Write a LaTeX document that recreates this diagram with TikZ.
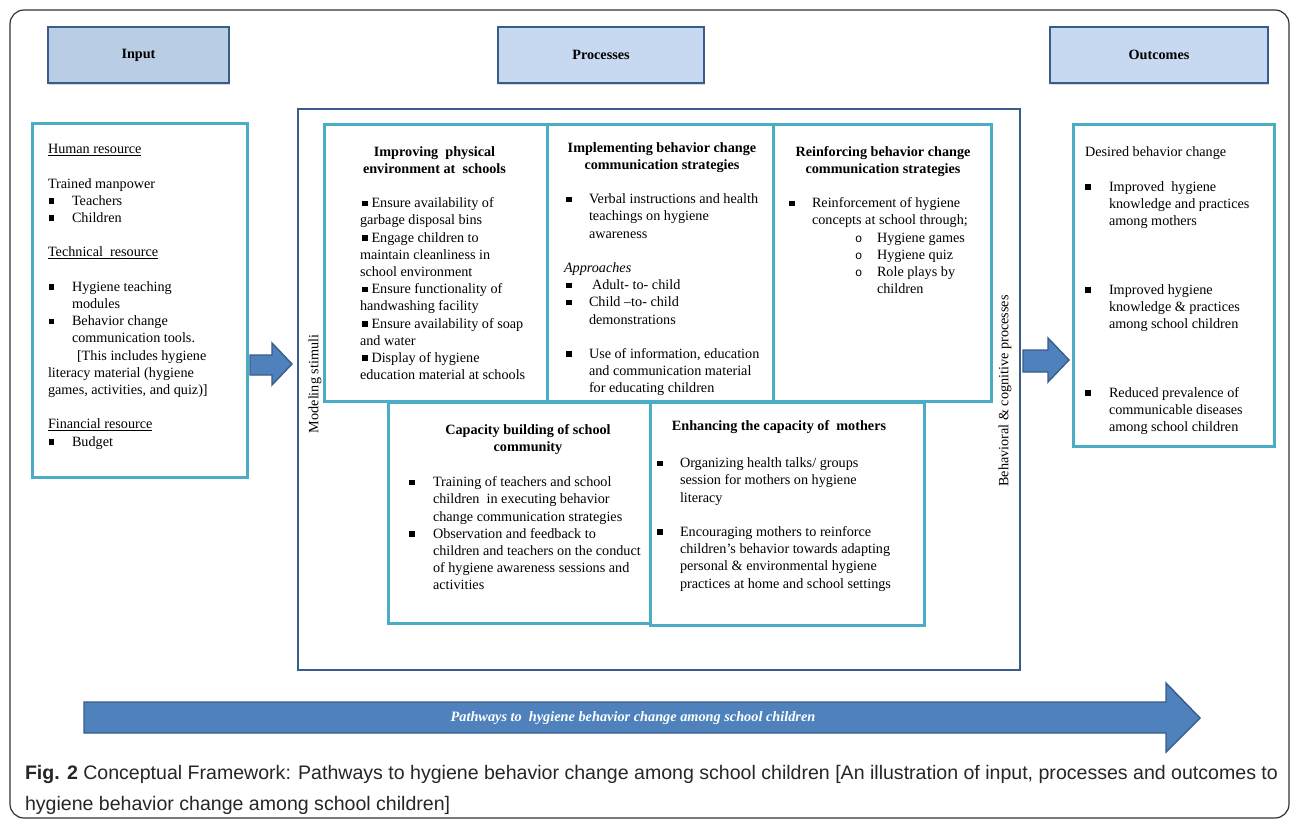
\documentclass[tikz,border=0pt]{standalone}
\usepackage{fontspec}
\usepackage{graphicx}
\setmainfont{Liberation Serif}
\newfontfamily\capfont{Liberation Sans}
\newfontfamily\monof{Liberation Mono}
\usetikzlibrary{shadows}
\definecolor{cyanb}{HTML}{4BACC6}
\definecolor{navy}{HTML}{385D8A}
\definecolor{hdrA}{HTML}{B9CDE5}
\definecolor{hdrB}{HTML}{C6D9F1}
\definecolor{arrowf}{HTML}{4F81BD}
\newcommand{\sqb}{\rule[1.5pt]{5.5pt}{5.5pt}}
\newcommand{\ob}{{\monof\fontsize{12}{12}\selectfont o}}
\newcommand{\mc}[1]{\multicolumn{2}{@{}l@{}}{#1}}
\tikzset{
  every node/.style={font=\fontsize{14.2}{17.2}\selectfont},
  hdr/.style={draw=navy, line width=2.4pt, minimum height=56pt, inner sep=0pt,
    font=\bfseries\fontsize{14.2}{17.2}\selectfont,
    drop shadow={shadow xshift=1.2pt, shadow yshift=-2.2pt, fill=black!30, opacity=.5}},
  cbox/.style={draw=cyanb, line width=2.6pt, anchor=north west, inner sep=0pt},
  pbox/.style={draw=navy, line width=2.4pt, anchor=north west, inner sep=0pt},
  tx/.style={anchor=north west, inner sep=0pt, outer sep=0pt},
  ttl/.style={anchor=north, inner sep=0pt, outer sep=0pt, font=\bfseries\fontsize{14.2}{17.2}\selectfont},
  blockarrow/.style={fill=arrowf, draw=navy, line width=1.4pt, line join=miter},
  frame/.style={draw=black!80, line width=1.2pt, rounded corners=14pt}
}
\begin{document}
\begin{tikzpicture}[x=1pt,y=-1pt]
\useasboundingbox (0,0) rectangle (1290,824);
\fill[white] (0,0) rectangle (1290,824);
\draw[frame] (10,10) rectangle (1289,818);

% headers
\node[hdr, fill=hdrA, minimum width=181pt] (hin) at (138.5,55) {Input};
\node[hdr, fill=hdrB, minimum width=206pt] (hpr) at (601,55) {Processes};
\node[hdr, fill=hdrB, minimum width=218pt] (hout) at (1159,55) {Outcomes};

% main boxes
\node[cbox, minimum width=215pt, minimum height=354pt] (inbox) at (31,122) {};
\node[pbox, minimum width=722pt, minimum height=561pt] (procbox) at (297,108) {};
\node[cbox, minimum width=223pt, minimum height=277pt] (b1) at (323,123) {};
\node[cbox, minimum width=226pt, minimum height=277pt] (b2) at (546,123) {};
\node[cbox, minimum width=218pt, minimum height=277pt] (b3) at (772,123) {};
\node[cbox, minimum width=262pt, minimum height=221pt] (b4) at (387,401) {};
\node[cbox, minimum width=274pt, minimum height=223pt] (b5) at (649,401) {};
\node[cbox, minimum width=201pt, minimum height=322pt] (outbox) at (1072,123) {};

% input text
\node[tx] (intext) at (48,141.6) {\begin{tabular}{@{}p{24pt}@{}l@{}}
\mc{\underline{Human resource}}\\
\mc{}\\
\mc{Trained manpower}\\
\hspace*{1pt}\sqb & Teachers\\
\hspace*{1pt}\sqb & Children\\
\mc{}\\
\mc{\underline{Technical\ \ resource}}\\
\mc{}\\
\hspace*{1pt}\sqb & Hygiene teaching\\
& modules\\
\hspace*{1pt}\sqb & Behavior change\\
& communication tools.\\
& \hspace*{5pt}[This includes hygiene\\
\mc{literacy material (hygiene}\\
\mc{games, activities, and quiz)]}\\
\mc{}\\
\mc{\underline{Financial resource}}\\
\hspace*{1pt}\sqb & Budget
\end{tabular}};

% box 1
\node[ttl] (t1) at (434.5,144.6) {\begin{tabular}{@{}c@{}}Improving\ \ physical\\environment at\ \ schools\end{tabular}};
\node[tx] (x1) at (360,195.6) {\begin{tabular}{@{}l@{}}
\hspace*{2pt}\sqb\hspace{4pt}Ensure availability of\\
garbage disposal bins\\
\hspace*{2pt}\sqb\hspace{4pt}Engage children to\\
maintain cleanliness in\\
school environment\\
\hspace*{2pt}\sqb\hspace{4pt}Ensure functionality of\\
handwashing facility\\
\hspace*{2pt}\sqb\hspace{4pt}Ensure availability of soap\\
and water\\
\hspace*{2pt}\sqb\hspace{4pt}Display of hygiene\\
education material at schools
\end{tabular}};

% box 2
\node[ttl] (t2) at (662,140.6) {\begin{tabular}{@{}c@{}}Implementing behavior change\\communication strategies\end{tabular}};
\node[tx] (x2) at (564,191.6) {\begin{tabular}{@{}p{25pt}@{}l@{}}
\hspace*{2pt}\sqb & Verbal instructions and health\\
& teachings on hygiene\\
& awareness\\
\mc{}\\
\mc{\itshape Approaches}\\
\hspace*{2pt}\sqb & \hspace*{3pt}Adult- to- child\\
\hspace*{2pt}\sqb & Child –to- child\\
& demonstrations\\
\mc{}\\
\hspace*{2pt}\sqb & Use of information, education\\
& and communication material\\
& for educating children
\end{tabular}};

% box 3
\node[ttl] (t3) at (883,144.6) {\begin{tabular}{@{}c@{}}Reinforcing behavior change\\communication strategies\end{tabular}};
\node[tx] (x3) at (789,195.6) {\begin{tabular}{@{}p{23pt}@{}l@{}}
\sqb & Reinforcement of hygiene\\
& concepts at school through;\\
& \makebox[65pt][l]{\hspace*{43pt}\ob}Hygiene games\\
& \makebox[65pt][l]{\hspace*{43pt}\ob}Hygiene quiz\\
& \makebox[65pt][l]{\hspace*{43pt}\ob}Role plays by\\
& \hspace*{65pt}children
\end{tabular}};

% box 4
\node[ttl] (t4) at (528,422.6) {\begin{tabular}{@{}c@{}}Capacity building of school\\community\end{tabular}};
\node[tx] (x4) at (409,474.6) {\begin{tabular}{@{}p{24pt}@{}l@{}}
\sqb & Training of teachers and school\\
& children\ \ in executing behavior\\
& change communication strategies\\
\sqb & Observation and feedback to\\
& children and teachers on the conduct\\
& of hygiene awareness sessions and\\
& activities
\end{tabular}};

% box 5
\node[ttl] (t5) at (779,420.6) {Enhancing the capacity of\ \ mothers};
\node[tx] (x5) at (657,455.6) {\begin{tabular}{@{}p{23pt}@{}l@{}}
\sqb & Organizing health talks/ groups\\
& session for mothers on hygiene\\
& literacy\\
\mc{}\\
\sqb & Encouraging mothers to reinforce\\
& children’s behavior towards adapting\\
& personal \& environmental hygiene\\
& practices at home and school settings
\end{tabular}};

% outcomes
\node[tx] (xo) at (1085,144.6) {\begin{tabular}{@{}p{24pt}@{}l@{}}
\mc{Desired behavior change}\\
\mc{}\\
\sqb & Improved\ \ hygiene\\
& knowledge and practices\\
& among mothers\\
\mc{}\\ \mc{}\\ \mc{}\\
\sqb & Improved hygiene\\
& knowledge \& practices\\
& among school children\\
\mc{}\\ \mc{}\\ \mc{}\\
\sqb & Reduced prevalence of\\
& communicable diseases\\
& among school children
\end{tabular}};

% side labels
\node[rotate=90, inner sep=0pt] (ms) at (315,384) {Modeling stimuli};
\node[rotate=90, inner sep=0pt] (bcp) at (1005,391) {Behavioral \& cognitive processes};

% block arrows
\draw[blockarrow] (250,355) -- (272,355) -- (272,343) -- (292,364) -- (272,385) -- (272,375) -- (250,375) -- cycle;
\draw[blockarrow] (1023,350) -- (1048,350) -- (1048,338) -- (1069,360) -- (1048,382) -- (1048,372) -- (1023,372) -- cycle;
\draw[blockarrow] (84,702) -- (1166,702) -- (1166,683) -- (1200,718) -- (1166,752) -- (1166,733) -- (84,733) -- cycle;
\node[text=white, font=\bfseries\itshape\fontsize{14.3}{16}\selectfont] (pw) at (633,718) {Pathways to\ \ hygiene behavior change among school children};

% caption
\node[tx, text=black!85] (cap) at (25,758) {\resizebox{1253pt}{!}{\capfont\fontsize{19}{30}\selectfont\begin{tabular}{@{}l@{}}\textbf{Fig. 2} Conceptual Framework: Pathways to hygiene behavior change among school children [An illustration of input, processes and outcomes to\\hygiene behavior change among school children]\end{tabular}}};
\end{tikzpicture}
\end{document}
